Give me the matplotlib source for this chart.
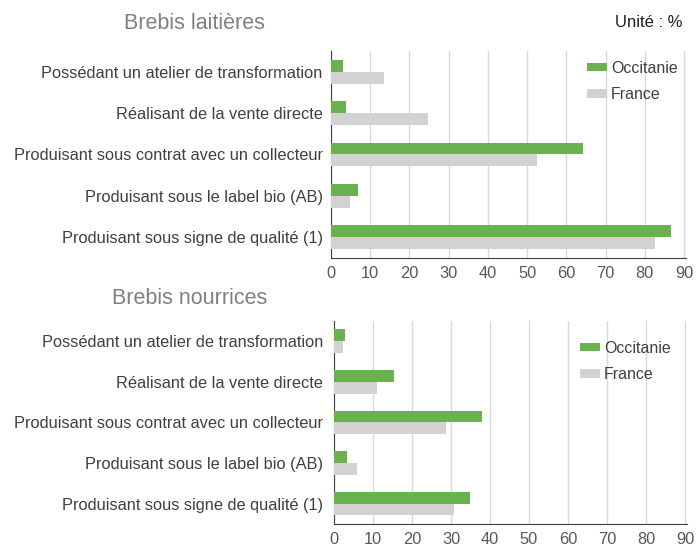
import matplotlib
matplotlib.use("Agg")
import matplotlib.pyplot as plt
import matplotlib.transforms as mtransforms
from matplotlib.patches import Rectangle
import numpy as np

plt.rcParams['font.family'] = ['Liberation Sans', 'DejaVu Sans']

# Catégories (de haut en bas)
categories = [
    "Possédant un atelier de transformation",
    "Réalisant de la vente directe",
    "Produisant sous contrat avec un collecteur",
    "Produisant sous le label bio (AB)",
    "Produisant sous signe de qualité (1)",
]

# Brebis laitières (%)
laitieres_occitanie = [3.1, 3.7, 64.3, 7.0, 86.8]
laitieres_france = [13.5, 24.6, 52.5, 4.9, 82.6]

# Brebis nourrices (%)
nourrices_occitanie = [2.9, 15.4, 38.0, 3.4, 35.0]
nourrices_france = [2.2, 11.0, 28.7, 5.8, 30.8]

ticks = [0, 10, 20, 30, 40, 50, 60, 70, 80, 90]

vert = "#6AB150"
gris = "#D2D2D2"
texte = "#404040"

fig = plt.figure(figsize=(6.96, 5.44), dpi=100)


def panneau(rect, occ, fra, titre, titre_x, titre_y, leg_xy, cache, ypad):
    ax = fig.add_axes(rect)
    y = np.arange(len(categories))
    h = 0.29
    ax.barh(y - h / 2, occ, height=h, color=vert, label="Occitanie", zorder=3)
    ax.barh(y + h / 2, fra, height=h, color=gris, label="France", zorder=3)
    ax.set_ylim(len(categories) - 0.5, -0.5)
    ax.set_xlim(0, 90.5)
    ax.set_xticks(ticks)
    ax.set_yticks(y)
    ax.set_yticklabels(categories, fontsize=11.8, color=texte)
    ax.tick_params(axis='y', length=0, pad=ypad)
    ax.tick_params(axis='x', length=0, pad=6, labelsize=11.8, labelcolor="#595959")
    ax.grid(axis='x', color="#D9D9D9", linewidth=1, zorder=0)
    for s in ["top", "right"]:
        ax.spines[s].set_visible(False)
    ax.spines["left"].set_color("#404040")
    ax.spines["bottom"].set_color("#404040")
    # zone blanche derrière la légende (masque le quadrillage)
    trans = mtransforms.blended_transform_factory(ax.transData, ax.transAxes)
    ax.add_patch(Rectangle((cache[0], cache[2]), cache[1] - cache[0], 1.0 - cache[2],
                           transform=trans, facecolor="white", edgecolor="none",
                           zorder=1, clip_on=False))
    leg = ax.legend(loc="upper left", bbox_to_anchor=leg_xy, frameon=False,
                    fontsize=11.5, handlelength=1.25, handleheight=0.45,
                    handletextpad=0.25, labelspacing=0.72, borderpad=0,
                    borderaxespad=0)
    for t in leg.get_texts():
        t.set_color(texte)
    fig.text(titre_x, titre_y, titre, fontsize=15.5, color="#808080",
             ha="center", va="center")
    return ax


panneau([0.4756, 0.5265, 0.510, 0.379], laitieres_occitanie, laitieres_france,
        "Brebis laitières", 0.279, 0.957, (0.721, 0.955), (62, 89, 0.68), 6)
panneau([0.4799, 0.037, 0.507, 0.373], nourrices_occitanie, nourrices_france,
        "Brebis nourrices", 0.272, 0.451, (0.697, 0.903), (62, 89, 0.61), 8)

fig.text(0.981, 0.958, "Unité : %", fontsize=12, color="#202020", ha="right", va="center")

fig.savefig("out.png", dpi=100)
